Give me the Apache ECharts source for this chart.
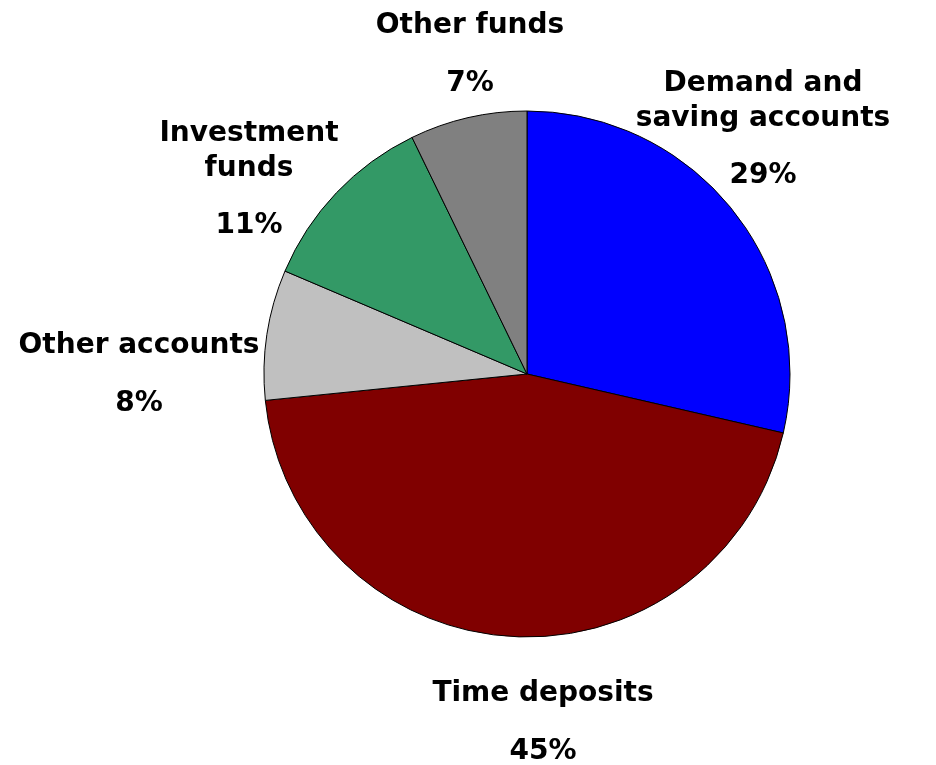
<!DOCTYPE html>
<html>
<head>
<meta charset="utf-8">
<script src="https://cdn.jsdelivr.net/npm/echarts@6/dist/echarts.min.js"></script>
<style>
    html, body { margin: 0; padding: 0; background: #fff; }
    #chart { width: 936px; height: 765px; }
</style>
</head>
<body>
<div id="chart"></div>
<script>
    // slices, clockwise from 12 o'clock
    var categories = ['Demand and\nsaving accounts', 'Time deposits', 'Other accounts', 'Investment\nfunds', 'Other funds'];
    var shares = [28.6, 44.8, 8.0, 11.4, 7.2];
    var colors = ['#0000ff', '#800000', '#c0c0c0', '#339966', '#808080'];

    // where each label block sits (centre of block)
    var labelPos = [[763, 141], [543, 734], [139, 386], [249, 191], [470, 66]];

    var chart = echarts.init(document.getElementById('chart'));
    chart.setOption({
        animation: false,
        series: [{
            type: 'pie',
            center: [527, 374],
            radius: 263,
            startAngle: 90,
            clockwise: true,
            itemStyle: {
                borderColor: '#000',
                borderWidth: 1
            },
            label: {
                show: true,
                position: 'outside',
                color: '#000',
                fontFamily: 'DejaVu Sans',
                fontWeight: 'bold',
                fontSize: 28,
                align: 'center',
                overflow: 'none',
                width: 400,
                formatter: function (p) {
                    return '{n|' + p.name + '}\n{p|' + Math.round(p.percent) + '%}';
                },
                rich: {
                    n: { fontFamily: 'DejaVu Sans', fontWeight: 'bold', fontSize: 28, lineHeight: 35, color: '#000', align: 'center' },
                    p: { fontFamily: 'DejaVu Sans', fontWeight: 'bold', fontSize: 28, lineHeight: 80, color: '#000', align: 'center' }
                }
            },
            labelLine: { show: false },
            labelLayout: function (params) {
                var pos = labelPos[params.dataIndex];
                return { x: pos[0], y: pos[1], align: 'center', verticalAlign: 'middle' };
            },
            data: categories.map(function (c, i) {
                return { name: c, value: shares[i], itemStyle: { color: colors[i] } };
            })
        }]
    });
</script>
</body>
</html>
